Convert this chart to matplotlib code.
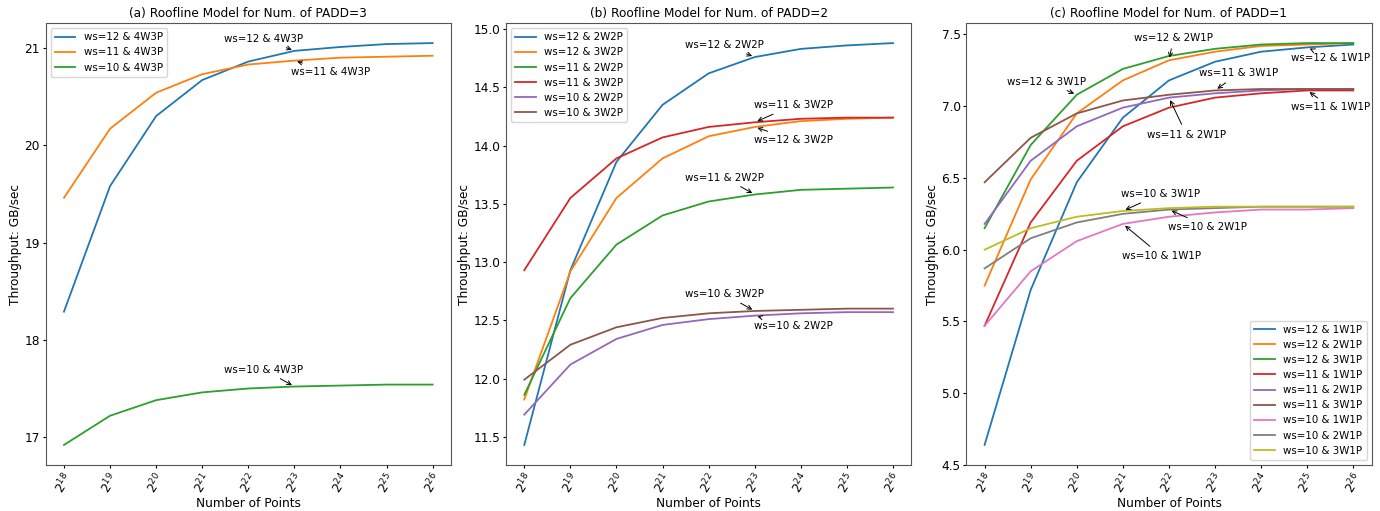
import numpy as np
import matplotlib
matplotlib.use("Agg")
import matplotlib.pyplot as plt

# x axis: exponents of 2 for number of points
exponents = np.arange(18, 27)
tick_labels = [f"$2^{{{e}}}$" for e in exponents]

# (a) PADD=3
labels_a = ["ws=12 & 4W3P", "ws=11 & 4W3P", "ws=10 & 4W3P"]
ws12_4w3p = [18.29, 19.58, 20.30, 20.67, 20.86, 20.97, 21.01, 21.04, 21.05]
ws11_4w3p = [19.46, 20.17, 20.54, 20.73, 20.83, 20.87, 20.90, 20.91, 20.92]
ws10_4w3p = [16.92, 17.22, 17.38, 17.46, 17.50, 17.52, 17.53, 17.54, 17.54]

# (b) PADD=2
labels_b = ["ws=12 & 2W2P", "ws=12 & 3W2P", "ws=11 & 2W2P",
            "ws=11 & 3W2P", "ws=10 & 2W2P", "ws=10 & 3W2P"]
ws12_2w2p = [11.43, 12.93, 13.86, 14.35, 14.62, 14.76, 14.83, 14.86, 14.88]
ws12_3w2p = [11.82, 12.92, 13.55, 13.89, 14.08, 14.16, 14.21, 14.23, 14.24]
ws11_2w2p = [11.86, 12.69, 13.15, 13.40, 13.52, 13.58, 13.62, 13.63, 13.64]
ws11_3w2p = [12.93, 13.55, 13.89, 14.07, 14.16, 14.20, 14.23, 14.24, 14.24]
ws10_2w2p = [11.69, 12.12, 12.34, 12.46, 12.51, 12.54, 12.56, 12.57, 12.57]
ws10_3w2p = [11.99, 12.29, 12.44, 12.52, 12.56, 12.58, 12.59, 12.60, 12.60]

# (c) PADD=1
labels_c = ["ws=12 & 1W1P", "ws=12 & 2W1P", "ws=12 & 3W1P",
            "ws=11 & 1W1P", "ws=11 & 2W1P", "ws=11 & 3W1P",
            "ws=10 & 1W1P", "ws=10 & 2W1P", "ws=10 & 3W1P"]
ws12_1w1p = [4.64, 5.72, 6.47, 6.92, 7.18, 7.31, 7.38, 7.41, 7.43]
ws12_2w1p = [5.75, 6.49, 6.95, 7.18, 7.32, 7.38, 7.42, 7.43, 7.44]
ws12_3w1p = [6.15, 6.73, 7.08, 7.26, 7.35, 7.40, 7.43, 7.44, 7.44]
ws11_1w1p = [5.47, 6.19, 6.62, 6.86, 6.99, 7.06, 7.09, 7.11, 7.11]
ws11_2w1p = [6.18, 6.62, 6.86, 6.99, 7.06, 7.09, 7.11, 7.12, 7.12]
ws11_3w1p = [6.47, 6.78, 6.95, 7.04, 7.08, 7.11, 7.12, 7.12, 7.12]
ws10_1w1p = [5.47, 5.85, 6.06, 6.18, 6.23, 6.26, 6.28, 6.28, 6.29]
ws10_2w1p = [5.87, 6.08, 6.19, 6.25, 6.28, 6.29, 6.30, 6.30, 6.30]
ws10_3w1p = [6.00, 6.15, 6.23, 6.27, 6.29, 6.30, 6.30, 6.30, 6.30]

series_a = [ws12_4w3p, ws11_4w3p, ws10_4w3p]
series_b = [ws12_2w2p, ws12_3w2p, ws11_2w2p, ws11_3w2p, ws10_2w2p, ws10_3w2p]
series_c = [ws12_1w1p, ws12_2w1p, ws12_3w1p, ws11_1w1p, ws11_2w1p,
            ws11_3w1p, ws10_1w1p, ws10_2w1p, ws10_3w1p]

# annotations: (series index, exponent, pixel offset of text left / vertical centre)
notes_a = [(0, 23, -70, 12), (1, 23, -3, -11), (2, 23, -70, 17)]
notes_b = [(0, 23, -70, 12), (3, 23, -1, 17), (1, 23, -1, -13),
           (2, 23, -70, 17), (5, 23, -70, 17), (4, 23, -1, -10)]
notes_c = [(1, 22, -35, 22), (0, 25, -16, -11), (2, 20, -70, 13),
           (5, 23, -16, 17), (3, 25, -16, -17), (4, 22, -22, -37),
           (8, 21, -2, 17), (7, 22, -1, -17), (6, 21, -1, -32)]

LABEL_FS = 8.7
SMALL_FS = 7.4

fig, axes = plt.subplots(1, 3, figsize=(13.8, 5.11), dpi=100)
plt.subplots_adjust(left=0.033, right=0.994, top=0.955, bottom=0.09, wspace=0.135)

panels = [
    ("(a) Roofline Model for Num. of PADD=3", labels_a, series_a, notes_a, "upper left"),
    ("(b) Roofline Model for Num. of PADD=2", labels_b, series_b, notes_b, "upper left"),
    ("(c) Roofline Model for Num. of PADD=1", labels_c, series_c, notes_c, "lower right"),
]

for ax, (title, labels, series, notes, loc) in zip(axes, panels):
    for lab, vals in zip(labels, series):
        ax.plot(exponents, vals, label=lab, lw=1.3)

    for idx, e, dx, dy in notes:
        y = series[idx][list(exponents).index(e)]
        ax.annotate(labels[idx], xy=(e, y), xytext=(dx, dy), textcoords="offset pixels",
                    ha="left", va="center", fontsize=SMALL_FS,
                    arrowprops=dict(arrowstyle="->", color="black", lw=0.7))

    ax.set_title(title, fontsize=LABEL_FS, pad=4)
    ax.set_xlabel("Number of Points", fontsize=LABEL_FS, labelpad=0)
    ax.set_ylabel("Throughput: GB/sec", fontsize=LABEL_FS, labelpad=2)
    ax.set_xticks(exponents)
    ax.set_xticklabels(tick_labels, rotation=57)
    ax.tick_params(axis="both", labelsize=LABEL_FS, length=2.5, pad=1.5)
    ax.legend(loc=loc, fontsize=SMALL_FS)
    for sp in ax.spines.values():
        sp.set_color("#555555")

plt.savefig("out.png", dpi=100)
